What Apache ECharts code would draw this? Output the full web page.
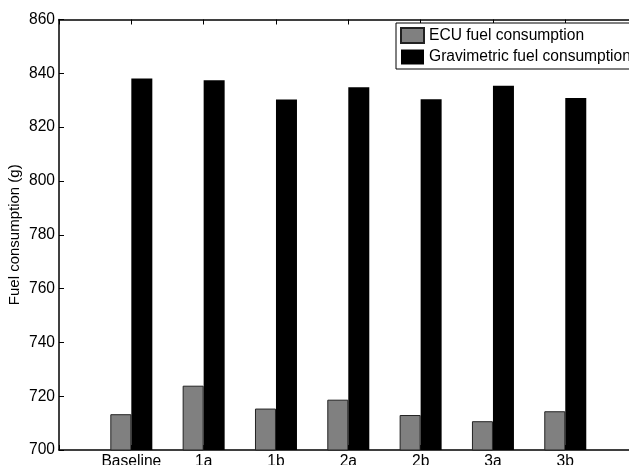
<!DOCTYPE html>
<html>
<head>
<meta charset="utf-8">
<script src="https://cdn.jsdelivr.net/npm/echarts@6/dist/echarts.min.js"></script>
<style>
html,body{margin:0;padding:0;background:#fff;}
#chart{width:629px;height:465px;}
</style>
</head>
<body>
<div id="chart"></div>
<script>
var categories = ['Baseline', '1a', '1b', '2a', '2b', '3a', '3b'];
var ecuValues = [713.3, 723.9, 715.4, 718.7, 713.0, 710.7, 714.4];
var gravValues = [838.1, 837.4, 830.3, 834.8, 830.4, 835.4, 830.8];
var seriesNames = ['ECU fuel consumption', 'Gravimetric fuel consumption'];
var yTitle = 'Fuel consumption (g)';

// pad one empty slot at each end (MATLAB axis runs from 0 to 8)
var axisCats = [''].concat(categories, ['']);
function pad(arr) { return [null].concat(arr, [null]); }

var font = 'Liberation Sans, Arial, Helvetica, sans-serif';
var chart = echarts.init(document.getElementById('chart'), null, {renderer: 'canvas'});
chart.setOption({
  animation: false,
  backgroundColor: '#fff',
  textStyle: {fontFamily: font},
  grid: {left: 59, width: 578.6, top: 19.5, height: 430.5, containLabel: false, outerBoundsMode: 'none'},
  legend: {
    orient: 'vertical',
    left: 396, top: 23,
    padding: [4, 4, 4, 4],
    itemGap: 5,
    itemWidth: 23, itemHeight: 15,
    icon: 'rect',
    borderColor: '#000', borderWidth: 1,
    backgroundColor: '#fff',
    borderRadius: 0,
    textStyle: {fontFamily: font, fontSize: 15.6, color: '#000'},
    data: seriesNames
  },
  xAxis: [{
    type: 'category',
    data: axisCats,
    boundaryGap: false,
    position: 'bottom',
    axisLine: {lineStyle: {color: '#000', width: 1.5}},
    axisTick: {inside: true, length: 5, lineStyle: {color: '#000'}},
    axisLabel: {fontFamily: font, fontSize: 15.6, color: '#000', margin: 4, interval: 0},
    splitLine: {show: false}
  }, {
    type: 'category',
    data: axisCats,
    boundaryGap: false,
    position: 'top',
    axisLine: {lineStyle: {color: '#000', width: 1.5}},
    axisTick: {inside: true, length: 5, lineStyle: {color: '#000'}},
    axisLabel: {show: false},
    splitLine: {show: false}
  }],
  yAxis: {
    type: 'value',
    min: 700, max: 860, interval: 20,
    name: yTitle,
    nameLocation: 'middle',
    nameGap: 37,
    nameMoveOverlap: false,
    nameRotate: 90,
    nameTextStyle: {fontFamily: font, fontSize: 15, color: '#000'},
    axisLine: {show: true, lineStyle: {color: '#000', width: 1.5}},
    axisTick: {show: true, inside: true, length: 5, lineStyle: {color: '#000'}},
    axisLabel: {fontFamily: font, fontSize: 15.6, color: '#000', margin: 4},
    splitLine: {show: false}
  },
  series: [{
    name: seriesNames[0],
    type: 'bar',
    data: pad(ecuValues),
    barWidth: 21,
    barGap: '0%',
    itemStyle: {color: '#808080', borderColor: '#222', borderWidth: 1}
  }, {
    name: seriesNames[1],
    type: 'bar',
    data: pad(gravValues),
    barWidth: 21,
    barGap: '0%',
    itemStyle: {color: '#000', borderColor: '#000', borderWidth: 0}
  }]
});
</script>
</body>
</html>
